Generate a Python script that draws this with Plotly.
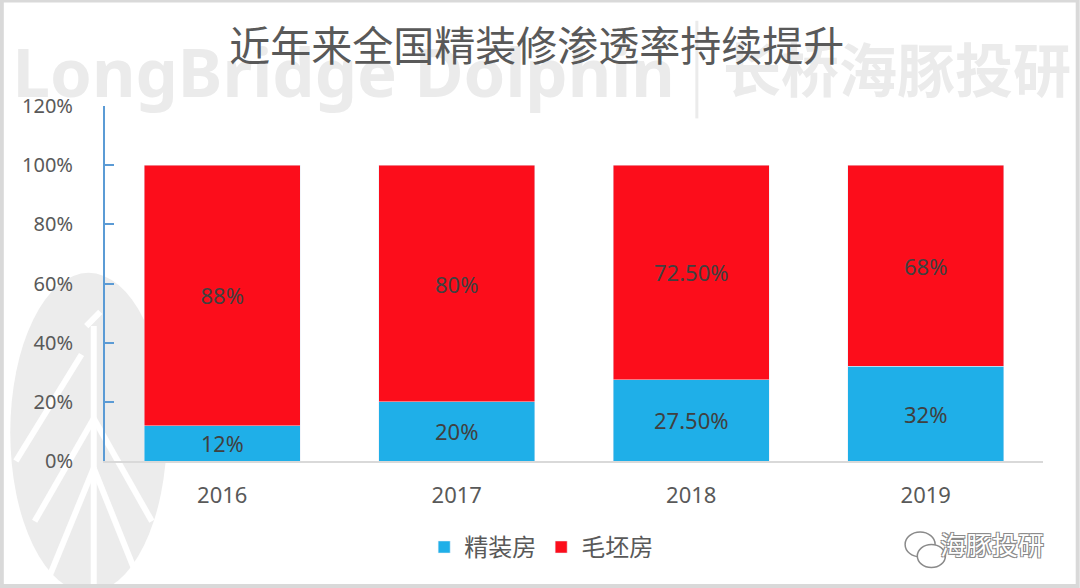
import plotly.graph_objects as go

years = ["2016", "2017", "2018", "2019"]
finished = [12, 20, 27.5, 32]
rough = [88, 80, 72.5, 68]
finished_labels = ["12%", "20%", "27.50%", "32%"]
rough_labels = ["88%", "80%", "72.50%", "68%"]
yticks = [0, 20, 40, 60, 80, 100, 120]
ytick_labels = ["0%", "20%", "40%", "60%", "80%", "100%", "120%"]

cjk = "Noto Sans CJK SC"
num = "Noto Sans, Open Sans, sans-serif"
wm = "#ebebeb"
xpos = list(range(len(years)))

fig = go.Figure()
fig.add_trace(go.Bar(
    x=xpos, y=finished, name="精装房", marker_color="#1FAFE8",
    text=finished_labels, textposition="inside", insidetextanchor="middle",
    textfont=dict(size=22, color="#404040", family=num), textangle=0,
))
fig.add_trace(go.Bar(
    x=xpos, y=rough, name="毛坯房", marker_color="#FC0D1B",
    text=rough_labels, textposition="inside", insidetextanchor="middle",
    textfont=dict(size=22, color="#404040", family=num), textangle=0,
))

# watermark text drawn as unclipped text marks beneath the tick labels and title
fig.add_trace(go.Scatter(
    x=[1.93], y=[117.5], mode="text",
    text=["LongBridge Dolphin"],
    textposition="top left", cliponaxis=False, showlegend=False, hoverinfo="skip",
    textfont=dict(size=67, color=wm, family="Noto Sans", weight="bold"),
))
fig.add_trace(go.Scatter(
    x=[2.135], y=[119.9], mode="text",
    text=["长桥海豚投研"],
    textposition="top right", cliponaxis=False, showlegend=False, hoverinfo="skip",
    textfont=dict(size=58, color=wm, family=cjk, weight="bold"),
))

fig.update_layout(
    barmode="stack", bargap=0.335,
    width=1080, height=588,
    margin=dict(l=105, r=37, t=106, b=127),
    paper_bgcolor="white", plot_bgcolor="rgba(0,0,0,0)",
    title=dict(text="近年来全国精装修渗透率持续提升", x=0.497, xanchor="center",
               y=0.92, yanchor="middle", xref="container", yref="container",
               font=dict(size=41, color="#595959", family=cjk)),
    showlegend=True,
    legend=dict(orientation="h", x=0.465, xanchor="center", y=-0.18, yanchor="top",
                font=dict(size=24, color="#595959", family=cjk),
                traceorder="normal"),
    xaxis=dict(range=[-0.5, 3.5], tickvals=xpos, ticktext=years,
               showline=True, linecolor="#d9d9d9", linewidth=2, showgrid=False, ticks="",
               zeroline=False,
               tickfont=dict(size=22, color="#595959", family=num), ticklabelstandoff=14),
    yaxis=dict(range=[0, 120], tickvals=yticks, ticktext=ytick_labels,
               showline=True, linecolor="#5B9BD5", linewidth=2, ticks="inside",
               tickcolor="#5B9BD5", ticklen=9, tickwidth=2, showgrid=False,
               zeroline=False, tickfont=dict(size=20, color="#595959", family=num),
               ticklabelstandoff=26),
)

# separator bar of the watermark
fig.add_shape(type="line", xref="paper", yref="paper", layer="below",
              x0=0.631, x1=0.631, y0=0.965, y1=1.24, line=dict(color=wm, width=3))
# bottom-right brand
fig.add_annotation(text="海豚投研", xref="paper", yref="paper",
                   x=1.003, xanchor="right", y=-0.175, yanchor="top", showarrow=False,
                   font=dict(size=26, color="white", family=cjk,
                             shadow="1px 1px 0 #8a8a8a, -1px -1px 0 #8a8a8a, 1px -1px 0 #8a8a8a, -1px 1px 0 #8a8a8a"))

# left logo watermark (light grey disc with white strokes)
fig.add_shape(type="circle", xref="paper", yref="paper", layer="below",
              x0=-0.101, x1=0.066, y0=-0.37, y1=0.53,
              fillcolor="#ececec", line=dict(width=0))
for (xa, ya, xb, yb) in [(-0.012, 0.38, -0.012, -0.37), (-0.02, 0.38, -0.005, 0.42),
                         (-0.012, 0.12, -0.075, -0.17), (-0.012, -0.02, -0.06, -0.33),
                         (-0.012, 0.12, 0.05, -0.17), (-0.012, -0.02, 0.035, -0.33),
                         (-0.025, 0.30, -0.095, 0.0)]:
    fig.add_shape(type="line", xref="paper", yref="paper", layer="below",
                  x0=xa, y0=ya, x1=xb, y1=yb, line=dict(color="white", width=6))

# wechat-like bubbles
fig.add_shape(type="circle", xref="paper", yref="paper", x0=0.853, x1=0.885, y0=-0.20, y1=-0.27,
              line=dict(color="#8a8a8a", width=1.5), fillcolor="white")
fig.add_shape(type="circle", xref="paper", yref="paper", x0=0.866, x1=0.896, y0=-0.235, y1=-0.30,
              line=dict(color="#8a8a8a", width=1.5), fillcolor="white")
# outer border
fig.add_shape(type="rect", xref="paper", yref="paper",
              x0=-0.110, x1=1.037, y0=-0.352, y1=1.297,
              line=dict(color="#d9d9d9", width=4))

fig.write_html("out.html")
